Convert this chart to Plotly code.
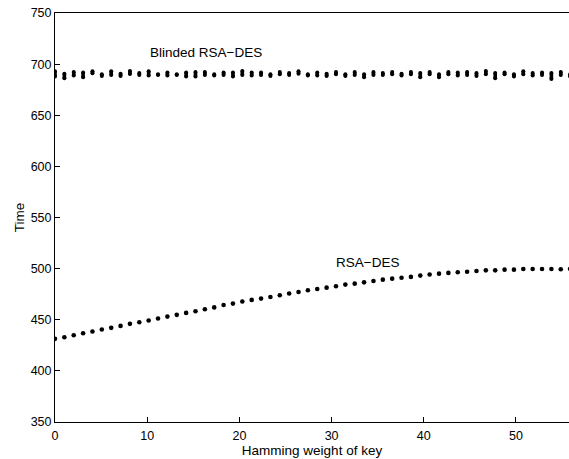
import plotly.graph_objects as go

# Hamming weight grid: 64 samples spread over 0..64, the first 56 are shown
n_points = 56
hamming_weight = [k * 64 / 63 for k in range(n_points)]

# Plain RSA-DES: mean execution time per Hamming weight
rsa_des = [
    431.3, 432.9, 434.9, 436.8, 438.5, 440.4, 442.1, 444.0, 446.0, 447.6,
    449.2, 451.2, 453.1, 454.8, 456.7, 458.3, 460.3, 462.1, 464.4, 465.8,
    467.8, 469.4, 470.7, 472.3, 474.0, 475.6, 477.2, 478.8, 480.1, 481.4,
    482.7, 484.4, 485.3, 486.6, 487.9, 489.2, 490.2, 491.1, 491.9, 493.2,
    494.3, 495.1, 495.8, 496.4, 497.0, 497.7, 498.3, 498.3, 499.0, 499.0,
    499.7, 499.7, 499.7, 499.7, 499.4, 499.7,
]

# Blinded RSA-DES: spread (max / min) of the measured times per Hamming weight
blinded_max = [
    693.0, 690.7, 692.3, 691.7, 693.0, 690.0, 693.0, 690.7, 693.3, 691.3,
    693.0, 690.0, 691.7, 690.0, 691.7, 692.3, 692.3, 690.0, 691.7, 691.7,
    693.3, 691.7, 691.7, 690.0, 692.3, 691.3, 693.0, 690.0, 691.7, 690.7,
    692.3, 690.0, 692.3, 690.0, 692.3, 691.3, 692.3, 690.7, 692.3, 691.3,
    692.3, 690.0, 692.3, 691.7, 692.3, 691.3, 693.3, 691.3, 691.7, 690.0,
    693.0, 691.3, 691.7, 691.3, 692.3, 690.0,
]
blinded_min = [
    687.8, 686.1, 688.8, 687.1, 691.0, 688.4, 689.4, 688.4, 690.4, 689.4,
    688.8, 689.4, 688.8, 689.4, 687.8, 687.8, 689.4, 688.8, 689.4, 687.8,
    689.4, 688.8, 689.4, 688.4, 690.1, 689.4, 690.7, 688.8, 688.8, 688.4,
    690.1, 688.4, 689.4, 687.1, 689.4, 689.4, 690.1, 688.8, 690.1, 687.1,
    690.1, 687.1, 690.1, 688.8, 689.4, 688.4, 690.1, 686.1, 690.1, 687.8,
    690.1, 688.8, 689.4, 685.5, 689.4, 687.8,
]

x_ticks = [0, 10, 20, 30, 40, 50]
y_ticks = [350, 400, 450, 500, 550, 600, 650, 700, 750]

FONT = "Liberation Sans, Arial, Helvetica, sans-serif"
TICK_SIZE = 12.5
LABEL_SIZE = 13.5

fig = go.Figure()

# vertical bars joining the min and max of each blinded measurement
seg_x, seg_y = [], []
for x, hi, lo in zip(hamming_weight, blinded_max, blinded_min):
    seg_x += [x, x, None]
    seg_y += [hi, lo, None]
fig.add_trace(go.Scatter(
    x=seg_x, y=seg_y, mode="lines+markers",
    line=dict(color="black", width=3.6),
    marker=dict(color="black", size=4, line=dict(width=0)),
    showlegend=False, hoverinfo="skip",
))

fig.add_trace(go.Scatter(
    x=hamming_weight, y=rsa_des, mode="markers",
    marker=dict(color="black", size=4.6, line=dict(width=0)),
    showlegend=False,
))

fig.add_annotation(x=16.4, y=711, text="Blinded RSA\u2212DES", showarrow=False,
                   font=dict(family=FONT, size=LABEL_SIZE, color="black"))
fig.add_annotation(x=33.9, y=506, text="RSA\u2212DES", showarrow=False,
                   font=dict(family=FONT, size=LABEL_SIZE, color="black"))

fig.update_layout(
    width=569, height=459,
    margin=dict(l=55, r=0, t=13, b=37),
    paper_bgcolor="white", plot_bgcolor="white",
    font=dict(family=FONT, size=TICK_SIZE, color="black"),
    xaxis=dict(
        range=[0, 55.75], tickvals=x_ticks, ticks="inside", ticklen=5,
        tickcolor="black", showline=True, linecolor="black", linewidth=1,
        mirror=True, showgrid=False, zeroline=False, ticklabelstandoff=2,
        title=dict(text="Hamming weight of key", standoff=2,
                   font=dict(family=FONT, size=LABEL_SIZE)),
        tickfont=dict(family=FONT, size=TICK_SIZE),
    ),
    yaxis=dict(
        range=[350, 750], tickvals=y_ticks, ticks="inside", ticklen=5,
        tickcolor="black", showline=True, linecolor="black", linewidth=1,
        showgrid=False, zeroline=False,
        title=dict(text="Time", standoff=2, font=dict(family=FONT, size=LABEL_SIZE)),
        tickfont=dict(family=FONT, size=TICK_SIZE),
    ),
)

fig.write_html("out.html")
